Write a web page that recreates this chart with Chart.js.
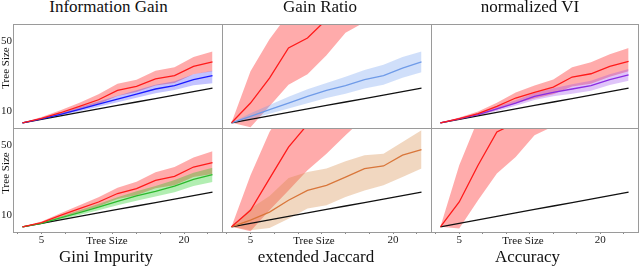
<!DOCTYPE html>
<html><head><meta charset="utf-8">
<script src="https://cdn.jsdelivr.net/npm/chart.js@4.4.1/dist/chart.umd.min.js"></script>
<style>
body{margin:0;background:#fff;width:640px;height:266px;overflow:hidden;position:relative;font-family:'Liberation Serif',serif;color:#111}
.box{position:absolute}
.ttl{position:absolute;font-size:17px;line-height:17px;white-space:nowrap;transform:translateX(-50%)}
.lbl{position:absolute;font-size:11px;line-height:11px;white-space:nowrap;transform:translateX(-50%)}
.ylbl{position:absolute;font-size:11px;line-height:11px;white-space:nowrap;transform:translate(-50%,-50%) rotate(-90deg)}
</style></head><body>
<script>
// ═══ DATA ═══
const treeSize=[3,5,7,9,11,13,15,17,19,21,23];
const optimal=[3,5,7,9,11,13,15,17,19,21,23];
const xTicks=[2.5,5,7.5,10,12.5,15,17.5,20,22.5];
const xTickLabels={5:'5',20:'20'};
const yTicks=[10,20,30,40,50];
const yTickLabels={10:'10',50:'50'};
const topTitles=['Information Gain','Gain Ratio','normalized VI'];
const bottomTitles=['Gini Impurity','extended Jaccard','Accuracy'];

// Information Gain
const igRed=[3,5.5,8.8,12.5,16.3,21.7,24.0,28.4,30.2,35.5,38.1];
const igRedHi=[3,6.3,10.2,14.5,19.5,25.5,27.8,33,35,41,44.2];
const igRedLo=[3,4.9,7.5,10.5,13.8,18.5,20.8,24.5,26,31,32.7];
const igBlue=[3,5.2,7.9,10.8,13.8,16.7,19.6,22.5,24.4,27.9,30.2];
const igBlueHi=[3,5.6,8.6,12,15.3,18.6,21.8,25,27,31,33];
const igBlueLo=[3,4.8,7.2,9.7,12.3,14.9,17.5,20.1,21.9,24.6,25.8];
// Gain Ratio
const grRed=[3,14.4,28.8,46.2,51.9,62.6,72,80,88,95,102];
const grRedHi=[3,32.7,51.2,66,76,86,95,104,112,120,128];
const grRedLo=[3,0.5,12.5,25,31,42,55,61,68,75,82];
const grBlue=[3,6.7,10.6,14.4,18.2,21.7,24.4,27.9,30.2,34.6,38.1];
const grBlueHi=[3,8.5,13.3,18,22.3,26,29.5,33.5,36.5,41,44.2];
const grBlueLo=[3,5.2,8.2,11.2,14.3,17.3,19.7,22.8,24.9,29,32.1];
// normalized VI
const viRed=[3,5.4,8.3,12.5,17.3,20.6,23.6,29.4,31.3,35.5,38.4];
const viRedHi=[3,6,9.5,14.5,20.5,24.5,28,35,38,42.5,46.2];
const viRedLo=[3,4.8,7.1,10.5,14.3,17,19.5,24,25.5,29.5,32.7];
const viPurple=[3,5.2,7.7,11,14.4,18.2,20.6,22.5,24.4,27.9,30.6];
const viPurpleHi=[3,5.6,8.5,12.2,16,20.2,22.9,25.2,27.3,31,34];
const viPurpleLo=[3,4.8,7,9.8,12.8,16.2,18.3,19.8,21.5,24.8,27.2];
// Gini Impurity
const giRed=[3,5.4,9.6,13.5,17.3,22.2,25,29.8,32.1,37.5,40];
const giRedHi=[3,6,10.8,15.5,20,25.5,29,34.5,37.5,43,46.6];
const giRedLo=[3,4.8,8.4,11.6,14.7,19,21.2,25.2,27,31.8,33.4];
const giGreen=[3,5,8.1,11.2,14.4,17.7,20.8,23.5,26.5,30.4,33.1];
const giGreenHi=[3,5.5,9,12.6,16.2,20,23.5,26.5,30,34.2,37];
const giGreenLo=[3,4.5,7.2,9.8,12.6,15.4,18.1,20.5,23,26.6,28.8];
// extended Jaccard
const ejRed=[3,12.5,30.8,49,62,72,80,88,95,102,108];
const ejRedHi=[3,32.7,57.7,75,88,98,108,116,124,132,140];
const ejRedLo=[3,0.5,12.5,24,35.6,45.2,55.8,66,74,82,90];
const ejOrange=[3,6.8,11.5,18.3,24,26.9,31.7,36.6,38.1,44.3,47.5];
const ejOrangeHi=[3,13.5,20.8,31.2,34.6,36.6,40.8,44.3,45.2,51.9,58.7];
const ejOrangeLo=[3,1,2.3,7.7,13.5,15.4,20.2,24,26.9,31.7,36.6];
// Accuracy
const acRed=[3,17.3,38.5,57.7,63,68,72,76,80,84,88];
const acRedHi=[3,38.5,65,80,90,100,108,116,124,132,140];
const acRedLo=[3,2,18.3,33.7,43.3,55.8,61,66,70,74,78];

// ═══ LAYOUT ═══
const X=[13,222,431,638], Y=[24,128,232];
const RED='#ff1a1a', RED_BAND='rgba(255,0,0,0.33)';
const PANELS=[
  {red:[igRed,igRedHi,igRedLo],alt:[igBlue,igBlueHi,igBlueLo],c:'#1a1aff',band:'rgba(40,40,255,0.28)'},
  {red:[grRed,grRedHi,grRedLo],alt:[grBlue,grBlueHi,grBlueLo],c:'#6f9be8',band:'rgba(100,149,237,0.3)'},
  {red:[viRed,viRedHi,viRedLo],alt:[viPurple,viPurpleHi,viPurpleLo],c:'#8a2be2',band:'rgba(150,60,235,0.3)'},
  {red:[giRed,giRedHi,giRedLo],alt:[giGreen,giGreenHi,giGreenLo],c:'#2cb82c',band:'rgba(0,200,0,0.3)'},
  {red:[ejRed,ejRedHi,ejRedLo],alt:[ejOrange,ejOrangeHi,ejOrangeLo],c:'#d9763a',band:'rgba(210,130,60,0.32)'},
  {red:[acRed,acRedHi,acRedLo],alt:null}
];

const pts=a=>treeSize.map((t,k)=>({x:t,y:a[k]}));
const frame={id:'frame',afterDraw(ch){
  const a=ch.chartArea,g=ch.ctx;g.save();g.strokeStyle='#9a9a9a';g.lineWidth=1;
  const l=Math.round(a.left)+.5,t=Math.round(a.top)+.5;
  g.strokeRect(l,t,Math.round(a.right)-Math.round(a.left),Math.round(a.bottom)-Math.round(a.top));
  g.restore();
}};
const noPad=s=>{s.paddingTop=0;s.paddingBottom=0;s.paddingLeft=0;s.paddingRight=0;};

function mkPanel(p,i){
  const r=Math.floor(i/3),c=i%3;
  const left=c?X[c]-2:0,top=Y[r]-2;
  const w=X[c+1]+2-left,h=(r?266:Y[r+1]+2)-top;
  const box=document.createElement('div');box.className='box';
  box.style.cssText=`left:${left}px;top:${top}px;width:${w}px;height:${h}px`;
  const cv=document.createElement('canvas');box.appendChild(cv);document.body.appendChild(box);

  const ds=[];
  const line=(a,col,o)=>({data:pts(a),borderColor:col,borderWidth:1.3,fill:false,order:o});
  ds.push(line(p.red[0],RED,0));
  ds.push(line(optimal,'#111',2));
  ds.push({data:pts(p.red[1]),borderWidth:0,backgroundColor:RED_BAND,fill:{target:3},order:5});
  ds.push({data:pts(p.red[2]),borderWidth:0,fill:false,order:6});
  if(p.alt){
    ds.push(line(p.alt[0],p.c,1));
    ds.push({data:pts(p.alt[1]),borderWidth:0,backgroundColor:p.band,fill:{target:6},order:3});
    ds.push({data:pts(p.alt[2]),borderWidth:0,fill:false,order:4});
  }

  new Chart(cv,{
    type:'line',
    data:{datasets:ds},
    options:{
      responsive:true,maintainAspectRatio:false,animation:false,
      layout:{padding:{left:c?2:0,right:2,top:2,bottom:r?0:2}},
      plugins:{legend:{display:false},tooltip:{enabled:false}},
      elements:{point:{radius:0},line:{tension:0}},
      scales:{
        x:{type:'linear',min:2,max:24,display:r===1,
          afterBuildTicks:s=>{s.ticks=xTicks.map(v=>({value:v}))},
          afterFit:s=>{s.height=r?34:0;noPad(s)},
          grid:{drawOnChartArea:false,tickLength:2,color:'#888'},
          border:{display:false},
          ticks:{autoSkip:false,maxRotation:0,padding:0,color:'#222',font:{family:'Liberation Serif',size:11},callback:v=>xTickLabels[v]||''}},
        y:{min:0,max:60,display:c===0,
          afterBuildTicks:s=>{s.ticks=yTicks.map(v=>({value:v}))},
          afterFit:s=>{s.width=c?0:13;noPad(s)},
          grid:{drawOnChartArea:false,tickLength:0},
          border:{display:false},
          ticks:{autoSkip:false,minRotation:0,maxRotation:0,padding:1,color:'#222',font:{family:'Liberation Serif',size:11},callback:v=>yTickLabels[v]||''}}
      }
    },
    plugins:[frame]
  });
}
PANELS.forEach(mkPanel);

// ═══ TEXT ═══
function txt(cls,s,x,y){const d=document.createElement('div');d.className=cls;d.textContent=s;d.style.left=x+'px';d.style.top=y+'px';document.body.appendChild(d);}
[108.5,320,530].forEach((x,k)=>txt('ttl',topTitles[k],x,-2));
[106,316,527.5].forEach((x,k)=>txt('ttl',bottomTitles[k],x,248));
[107,314,523].forEach(x=>txt('lbl','Tree Size',x,235));
[68,173].forEach(y=>txt('ylbl','Tree Size',5,y));
</script>
</body></html>
